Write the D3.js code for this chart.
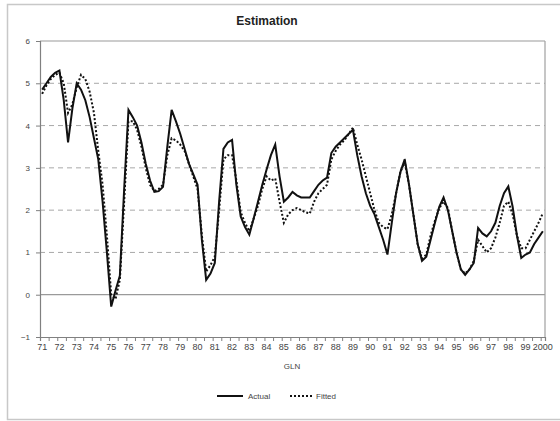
<!DOCTYPE html>
<html><head><meta charset="utf-8">
<script src="https://cdn.jsdelivr.net/npm/d3@7"></script>
<style>body{margin:0;background:#fff;} text{font-family:"Liberation Sans",Arial,sans-serif;}</style>
</head><body><svg id="c" width="560" height="421"></svg>
<script>
const yearLabels = ["71","72","73","74","75","76","77","78","79","80","81","82","83","84","85","86","87","88","89","90","91","92","93","94","95","96","97","98","99","2000"];
const actual = [4.85,5.0,5.15,5.25,5.3,4.6,3.6,4.4,5.0,4.85,4.6,4.2,3.7,3.2,2.2,1.0,-0.28,0.1,0.45,2.5,
4.37,4.2,4.0,3.6,3.1,2.7,2.43,2.45,2.55,3.5,4.37,4.1,3.8,3.45,3.1,2.85,2.6,1.3,0.35,0.5,
0.75,2.2,3.45,3.6,3.66,2.6,1.85,1.6,1.42,1.8,2.2,2.6,2.96,3.3,3.55,2.8,2.2,2.3,2.43,2.35,
2.3,2.3,2.3,2.45,2.6,2.7,2.77,3.35,3.5,3.6,3.7,3.8,3.9,3.3,2.8,2.4,2.1,1.9,1.6,1.3,
0.95,1.7,2.4,2.9,3.2,2.6,1.9,1.2,0.8,0.9,1.3,1.7,2.08,2.3,2.0,1.5,1.0,0.6,0.47,0.6,
0.75,1.58,1.45,1.38,1.5,1.7,2.1,2.4,2.56,2.08,1.4,0.87,0.95,1.0,1.2,1.35,1.5];
const fitted = [4.75,4.95,5.1,5.2,5.25,5.0,4.3,4.5,4.9,5.2,5.1,4.8,4.3,3.4,2.6,1.4,0.0,-0.1,0.35,2.2,
4.1,4.1,3.9,3.5,3.0,2.6,2.45,2.5,2.6,3.3,3.7,3.65,3.55,3.4,3.1,2.8,2.5,1.4,0.55,0.7,
0.9,2.0,3.2,3.3,3.3,2.7,1.95,1.7,1.5,1.8,2.1,2.5,2.8,2.7,2.75,2.2,1.7,1.9,2.0,2.05,
2.0,1.95,1.92,2.2,2.4,2.5,2.6,3.2,3.4,3.55,3.65,3.8,3.95,3.55,3.2,2.8,2.4,2.0,1.7,1.6,
1.55,1.9,2.4,2.9,3.15,2.6,1.9,1.2,0.85,0.95,1.4,1.75,2.05,2.2,2.05,1.5,1.0,0.6,0.5,0.6,
0.8,1.3,1.15,1.0,1.1,1.35,1.7,2.1,2.2,1.9,1.4,1.1,1.1,1.3,1.5,1.7,1.93];
const yTicks = [-1,0,1,2,3,4,5,6];

const svg = d3.select("#c");
const L = 40, R = 545, T = 41, B = 337;
const n = actual.length;
const x = d3.scaleLinear().domain([0, n]).range([L, R]);
const y = d3.scaleLinear().domain([-1, 6]).range([B, T]);

// outer frame
svg.append("rect").attr("x",7.5).attr("y",4.5).attr("width",560).attr("height",415)
  .attr("fill","none").attr("stroke","#c8c8c8").attr("stroke-width",1.5);

// title
svg.append("text").attr("x",267).attr("y",25).attr("text-anchor","middle")
  .attr("font-size",12).attr("font-weight","bold").attr("fill","#222").text("Estimation");

// gridlines
yTicks.forEach(v => {
  const g = svg.append("line").attr("x1",L).attr("x2",R).attr("y1",y(v)).attr("y2",y(v));
  if (v === 0 || v === 6) g.attr("stroke","#9a9a9a").attr("stroke-width",1.2);
  else if (v > -1) g.attr("stroke","#a8a8a8").attr("stroke-width",1).attr("stroke-dasharray","5,4");
});
// right border
svg.append("line").attr("x1",R).attr("x2",R).attr("y1",T).attr("y2",B).attr("stroke","#a0a0a0").attr("stroke-width",1.2);

// y axis
const yAxis = d3.axisLeft(y).tickValues(yTicks).tickSize(4).tickPadding(6).tickFormat(d3.format("d"));
const ga = svg.append("g").attr("transform",`translate(${L},0)`).call(yAxis);
ga.select(".domain").attr("stroke","#808080").attr("stroke-width",1.2);
ga.selectAll(".tick line").attr("stroke","#808080");
ga.selectAll("text").attr("font-size",8).attr("fill","#444").attr("font-family","Liberation Sans, Arial, sans-serif");

// x axis
const tickIdx = d3.range(0, n + 1, 2);
const xAxis = d3.axisBottom(x).tickValues(tickIdx).tickSize(4).tickFormat("");
const gx = svg.append("g").attr("transform",`translate(0,${B})`).call(xAxis);
gx.select(".domain").attr("stroke","#808080").attr("stroke-width",1.2);
gx.selectAll(".tick line").attr("stroke","#808080");
svg.append("g").selectAll("text").data(yearLabels).join("text")
  .attr("x",(d,k)=>x(k*4+0.5)).attr("y",350).attr("text-anchor","middle")
  .attr("font-size",9).attr("fill","#444").text(d=>d);

svg.append("text").attr("x",292).attr("y",369).attr("text-anchor","middle")
  .attr("font-size",8).attr("fill","#444").text("GLN");

// lines
const line = d3.line().x((d,i)=>x(i+0.5)).y(d=>y(d));
svg.append("path").datum(fitted).attr("d",line).attr("fill","none")
  .attr("stroke","#111").attr("stroke-width",2).attr("stroke-dasharray","2,2");
svg.append("path").datum(actual).attr("d",line).attr("fill","none")
  .attr("stroke","#111").attr("stroke-width",2);

// legend
const lg = svg.append("g");
lg.append("line").attr("x1",217).attr("x2",243).attr("y1",396).attr("y2",396).attr("stroke","#111").attr("stroke-width",2);
lg.append("text").attr("x",248).attr("y",399).attr("font-size",8).attr("fill","#444").text("Actual");
lg.append("line").attr("x1",290).attr("x2",313).attr("y1",396).attr("y2",396).attr("stroke","#111").attr("stroke-width",2).attr("stroke-dasharray","2,2");
lg.append("text").attr("x",316).attr("y",399).attr("font-size",8).attr("fill","#444").text("Fitted");
</script></body></html>
